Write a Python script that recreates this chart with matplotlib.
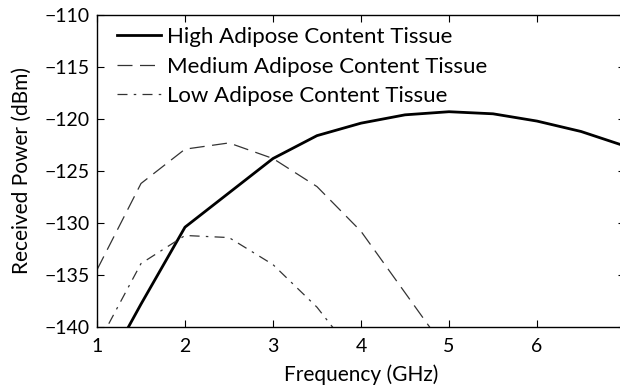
import numpy as np
import matplotlib
matplotlib.use("Agg")
import matplotlib.pyplot as plt

plt.rcParams['font.family'] = ['Lato', 'DejaVu Sans']

# frequency sweep (GHz) and received power (dBm) for each tissue type
freq = [1.0, 1.5, 2.0, 2.5, 3.0, 3.5, 4.0, 4.5, 5.0, 5.5, 6.0, 6.5, 7.0]
high_adipose = [-145.5, -137.8, -130.4, -127.1, -123.8, -121.6, -120.4,
                -119.6, -119.3, -119.5, -120.2, -121.2, -122.6]
medium_adipose = [-134.5, -126.2, -122.9, -122.3, -123.8, -126.5, -130.8,
                  -136.7, -142.6]
low_adipose = [-141.8, -133.9, -131.2, -131.4, -134.0, -138.1, -143.5]

series_labels = ['High Adipose Content Tissue',
                 'Medium Adipose Content Tissue',
                 'Low Adipose Content Tissue']
xticks = [1, 2, 3, 4, 5, 6, 7]
yticks = [-140, -135, -130, -125, -120, -115, -110]

fig = plt.figure(figsize=(6.2, 3.91), dpi=100)
ax = fig.add_axes([97 / 620, 1 - 327 / 391, 528 / 620, 312 / 391])

ax.plot(freq, high_adipose, color='black', lw=2.0, label=series_labels[0])
ax.plot(freq[:len(medium_adipose)], medium_adipose, color='#333333', lw=0.9,
        dashes=(12, 6), label=series_labels[1])
ax.plot(freq[:len(low_adipose)], low_adipose, color='#333333', lw=0.9,
        dashes=(8, 5, 2, 5), label=series_labels[2])

ax.set_xlim(1, 7)
ax.set_ylim(-140, -110)
ax.set_xticks(xticks)
ax.set_yticks(yticks)
ax.tick_params(direction='in', length=5, width=0.8, top=True, right=True,
               labelsize=14)
ax.tick_params(axis='x', pad=8)
ax.tick_params(axis='y', pad=5)
for s in ax.spines.values():
    s.set_linewidth(1.0)

ax.set_xlabel('Frequency (GHz)', fontsize=15, labelpad=7)
ax.set_ylabel('Received Power (dBm)', fontsize=15, labelpad=9)

ax.legend(loc='upper left', bbox_to_anchor=(0.0, 1.025), frameon=False,
          fontsize=16, handlelength=2.0, handletextpad=0.25,
          labelspacing=0.42, borderaxespad=0.5)

fig.savefig('out.png', dpi=100)
